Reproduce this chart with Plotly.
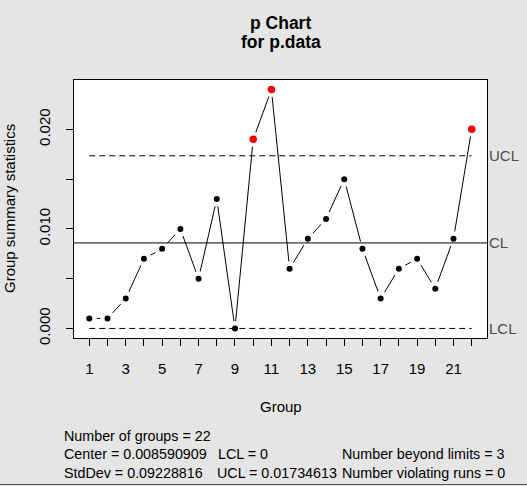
import plotly.graph_objects as go

# ---- data ----
groups = list(range(1, 23))
p_values = [0.001, 0.001, 0.003, 0.007, 0.008, 0.010, 0.005, 0.013, 0.000, 0.019, 0.024,
            0.006, 0.009, 0.011, 0.015, 0.008, 0.003, 0.006, 0.007, 0.004, 0.009, 0.020]
center = 0.008590909
lcl = 0.0
ucl = 0.01734613
stddev = 0.09228816
x_tick_vals = list(range(1, 23))
x_tick_text = [str(g) if g % 2 == 1 else "" for g in x_tick_vals]
y_tick_vals = [0.0, 0.005, 0.010, 0.015, 0.020]
y_tick_text = ["0.000", "", "0.010", "", "0.020"]

# ---- layout constants ----
W, H = 527, 486
ML, MR, MT, MB = 74, 40, 80, 148
PW, PH = W - ML - MR, H - MT - MB
BG = "#E5E5E5"
FONT = "Liberation Sans, Arial, sans-serif"
LABEL_COL = "#4D4D4D"


def px_x(p):  # pixel -> paper x
    return (p - ML) / PW


def px_y(p):  # pixel -> paper y
    return (H - MB - p) / PH


xr = [1 - 0.04 * 21, 22 + 0.04 * 21]
ymax = max(p_values)
yr = [-0.04 * ymax, ymax * 1.04]

beyond = [v > ucl or v < lcl for v in p_values]

fig = go.Figure()
# connecting line
fig.add_trace(go.Scatter(x=groups, y=p_values, mode="lines",
                         line=dict(color="black", width=1), hoverinfo="skip"))
# white halo to create gaps like R type="b"
fig.add_trace(go.Scatter(x=groups, y=p_values, mode="markers",
                         marker=dict(color="white", size=15, line=dict(width=0)),
                         hoverinfo="skip"))
# control lines
fig.add_trace(go.Scatter(x=[1, 22], y=[ucl, ucl], mode="lines",
                         line=dict(color="black", width=1, dash="6px,4px")))
fig.add_trace(go.Scatter(x=[1, 22], y=[lcl, lcl], mode="lines",
                         line=dict(color="black", width=1, dash="6px,4px")))
fig.add_trace(go.Scatter(x=xr, y=[center, center], mode="lines",
                         line=dict(color="black", width=1)))
# points
fig.add_trace(go.Scatter(
    x=[g for g, b in zip(groups, beyond) if not b],
    y=[v for v, b in zip(p_values, beyond) if not b],
    mode="markers", marker=dict(color="black", size=6)))
fig.add_trace(go.Scatter(
    x=[g for g, b in zip(groups, beyond) if b],
    y=[v for v, b in zip(p_values, beyond) if b],
    mode="markers", marker=dict(color="red", size=7.5)))

ann = []
# titles
ann.append(dict(text="<b>p Chart</b>", x=0.5, y=px_y(23), xref="paper", yref="paper",
                showarrow=False, font=dict(size=17.5, color="black", family=FONT),
                xanchor="center", yanchor="middle"))
ann.append(dict(text="<b>for p.data</b>", x=0.5, y=px_y(42.5), xref="paper", yref="paper",
                showarrow=False, font=dict(size=17.5, color="black", family=FONT),
                xanchor="center", yanchor="middle"))
# axis titles
ann.append(dict(text="Group", x=0.5, y=px_y(406), xref="paper", yref="paper",
                showarrow=False, font=dict(size=15, color="black", family=FONT),
                xanchor="center", yanchor="middle"))
ann.append(dict(text="Group summary statistics", x=px_x(9), y=0.5, xref="paper", yref="paper",
                showarrow=False, textangle=-90, font=dict(size=15, color="black", family=FONT),
                xanchor="center", yanchor="middle"))
# control limit labels
for lab, val in [("UCL", ucl), ("CL", center), ("LCL", lcl)]:
    ann.append(dict(text=lab, x=px_x(487), y=val, xref="paper", yref="y",
                    showarrow=False, font=dict(size=15, color=LABEL_COL, family=FONT),
                    xanchor="left", yanchor="middle"))
# stats
sf = dict(size=14.3, color="black", family=FONT)
stats = [
    ("Number of groups = 22", 61.5, 435.5, "left"),
    ("Center = %s" % format(center, ".9f"), 61.5, 454, "left"),
    ("LCL = %g" % lcl, 216, 454, "left"),
    ("Number beyond limits = %d" % sum(beyond), 339.5, 454, "left"),
    ("StdDev = %s" % format(stddev, ".8f"), 61.5, 472.5, "left"),
    ("UCL = %s" % format(ucl, ".8f"), 215, 472.5, "left"),
    ("Number violating runs = 0", 339.5, 472.5, "left"),
]
for t, xp, yp, anc in stats:
    ann.append(dict(text=t, x=px_x(xp), y=px_y(yp), xref="paper", yref="paper",
                    showarrow=False, font=sf, xanchor=anc, yanchor="middle"))

fig.update_layout(
    width=W, height=H,
    margin=dict(l=ML, r=MR, t=MT, b=MB, pad=0),
    paper_bgcolor=BG, plot_bgcolor="white",
    showlegend=False,
    annotations=ann,
    font=dict(family=FONT, size=15, color="black"),
    shapes=[dict(type="line", xref="paper", yref="paper",
                 x0=px_x(0), x1=px_x(W), y0=px_y(484.5), y1=px_y(484.5),
                 line=dict(color="#555555", width=1))],
)
fig.update_xaxes(range=xr, tickvals=x_tick_vals, ticktext=x_tick_text,
                 ticks="outside", ticklen=7, tickcolor="black", ticklabelstandoff=10,
                 showline=True, mirror=True, linecolor="black", linewidth=1,
                 showgrid=False, zeroline=False,
                 tickfont=dict(size=15, color="black", family=FONT))
fig.update_yaxes(range=yr, tickvals=y_tick_vals, ticktext=y_tick_text,
                 ticks="outside", ticklen=7, tickcolor="black", tickangle=-90,
                 ticklabelstandoff=10,
                 showline=True, mirror=True, linecolor="black", linewidth=1,
                 showgrid=False, zeroline=False,
                 tickfont=dict(size=15, color="black", family=FONT))

fig.write_html("out.html")
